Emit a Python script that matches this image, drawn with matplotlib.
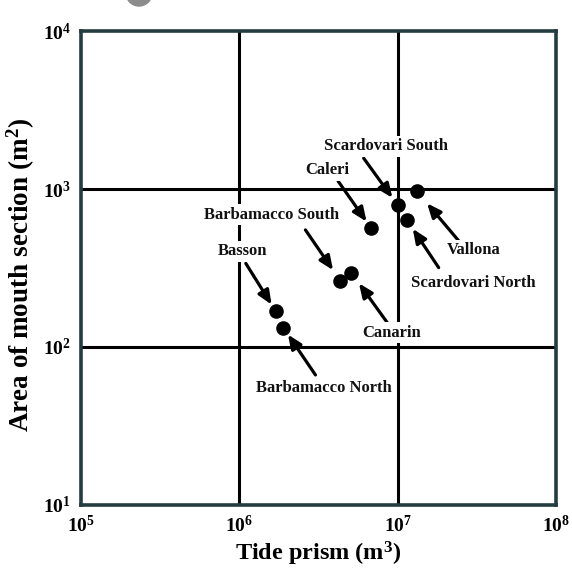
import math
import matplotlib
matplotlib.use('Agg')
import matplotlib.pyplot as plt
import matplotlib.ticker as mticker
from matplotlib.patches import Ellipse

plt.rcParams['font.family'] = 'Liberation Serif'
plt.rcParams['font.weight'] = 'bold'
plt.rcParams['mathtext.fontset'] = 'custom'
plt.rcParams['mathtext.rm'] = 'Liberation Serif:bold'
plt.rcParams['mathtext.bf'] = 'Liberation Serif:bold'
plt.rcParams['mathtext.it'] = 'Liberation Serif:bold'

# data
inlets = ['Scardovari South', 'Vallona', 'Scardovari North', 'Caleri',
          'Canarin', 'Barbamacco South', 'Basson', 'Barbamacco North']
tide_prism = [1.0e7, 1.32e7, 1.14e7, 6.8e6, 5.1e6, 4.35e6, 1.7e6, 1.9e6]
mouth_area = [790, 970, 640, 565, 295, 262, 168, 132]

x_ticks = [1e5, 1e6, 1e7, 1e8]
y_ticks = [1e1, 1e2, 1e3, 1e4]

# label layout, pixels relative to the dot (dx right, dy down)
arrow_tail = {'Scardovari South': (-34, -47), 'Vallona': (43, 51),
              'Scardovari North': (32, 48), 'Caleri': (-33, -47),
              'Canarin': (36, 50), 'Barbamacco South': (-35, -51),
              'Basson': (-30, -48), 'Barbamacco North': (32, 47)}
label_pos = {'Scardovari South': (-12, -59), 'Vallona': (57, 59),
             'Scardovari North': (67, 63), 'Caleri': (-44, -58),
             'Canarin': (40, 60), 'Barbamacco South': (-69, -66),
             'Basson': (-33, -60), 'Barbamacco North': (40, 60)}
gap = {'Scardovari South': 9, 'Vallona': 16, 'Scardovari North': 11,
       'Caleri': 8, 'Canarin': 13, 'Barbamacco South': 13,
       'Basson': 8, 'Barbamacco North': 8}

px = 0.72  # points per pixel at dpi 100

fig = plt.figure(figsize=(5.72, 5.76), dpi=100)
ax = fig.add_axes([81/572, 1-505/576, 475/572, 474/576])
ax.set_xscale('log')
ax.set_yscale('log')
ax.set_xlim(1e5, 1e8)
ax.set_ylim(1e1, 1e4)

for v in x_ticks[1:-1]:
    ax.axvline(v, color='black', lw=2.2, zorder=1)
for v in y_ticks[1:-1]:
    ax.axhline(v, color='black', lw=2.2, zorder=1)

ax.scatter(tide_prism, mouth_area, s=90, color='black', zorder=3)

for name, xv, yv in zip(inlets, tide_prism, mouth_area):
    tx, ty = arrow_tail[name]
    ax.annotate('', xy=(xv, yv), xytext=(tx*px, -ty*px), textcoords='offset points',
                arrowprops=dict(arrowstyle='-|>,head_length=0.7,head_width=0.3',
                                color='black', lw=2.3, shrinkA=0,
                                shrinkB=gap[name]*px, mutation_scale=12),
                zorder=2)
    lx, ly = label_pos[name]
    ax.annotate(name, xy=(xv, yv), xytext=(lx*px, -ly*px), textcoords='offset points',
                ha='center', va='center', fontsize=12, fontweight='bold', color='#111111',
                bbox=dict(boxstyle='square,pad=0.15', fc='white', ec='none'), zorder=4)

ax.set_xticks(x_ticks)
ax.set_yticks(y_ticks)
ax.xaxis.set_minor_locator(mticker.NullLocator())
ax.yaxis.set_minor_locator(mticker.NullLocator())
fmt = mticker.FuncFormatter(lambda v, p: r'$\mathbf{10^{%d}}$' % round(math.log10(v)))
ax.xaxis.set_major_formatter(fmt)
ax.yaxis.set_major_formatter(fmt)
ax.tick_params(length=0, labelsize=14, pad=7)

for s in ax.spines.values():
    s.set_color('#243b3f')
    s.set_linewidth(2.6)

ax.set_xlabel('Tide prism (m$^3$)', fontsize=17.5, fontweight='bold', labelpad=3)
ax.set_ylabel('Area of mouth section (m$^2$)', fontsize=19.5, fontweight='bold')
ax.yaxis.set_label_coords(-0.092, 0.485)

# grey smudge at the top edge of the scan
fig.patches.append(Ellipse((139/572, 1 + 7/576), 26/572, 26/576, transform=fig.transFigure,
                           color='#8c8c8c', zorder=0))

fig.savefig('out.png', dpi=100)
